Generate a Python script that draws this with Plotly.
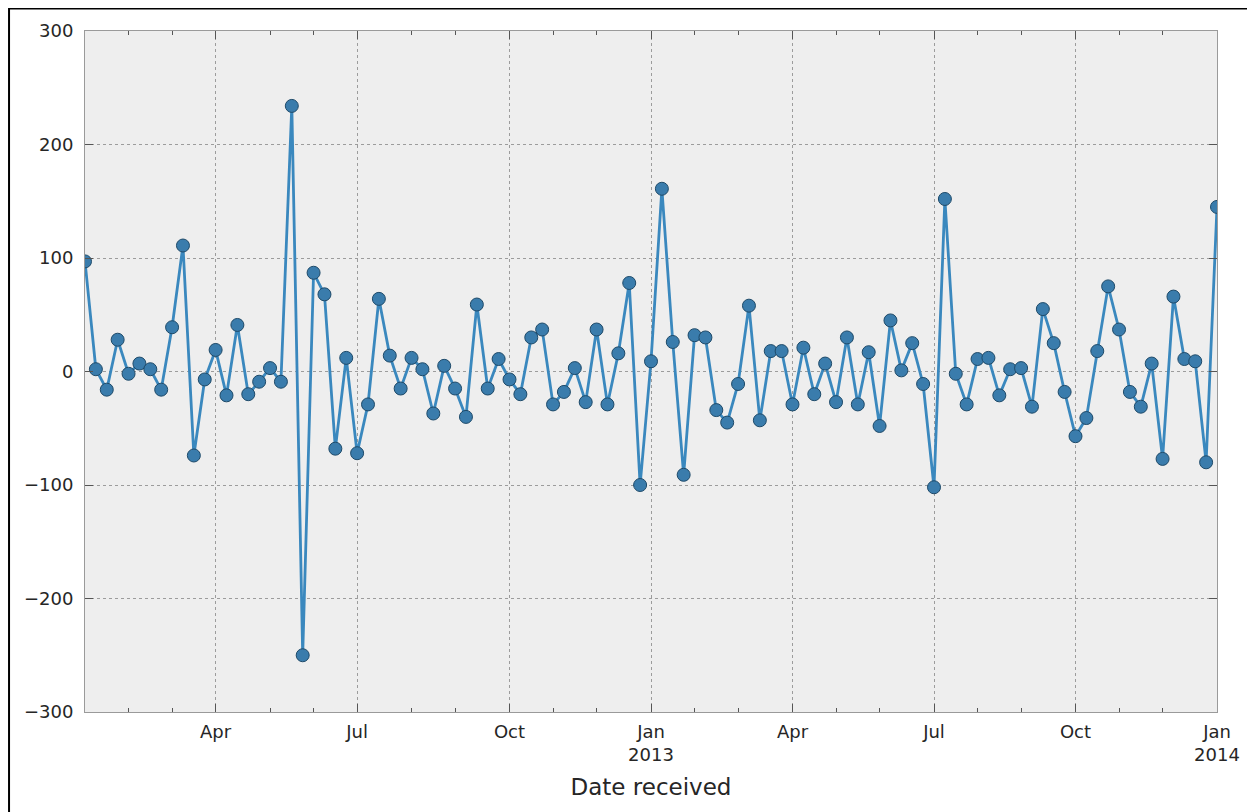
import pandas as pd
import plotly.graph_objects as go

# Weekly periods (W-SUN), first week ending 2012-01-08, last week containing 2014-01-01
start_week = "2012-01-08"
n_weeks = 105

values = [
    97, 2, -16, 28, -2, 7, 2, -16, 39, 111,
    -74, -7, 19, -21, 41, -20, -9, 3, -9, 234,
    -250, 87, 68, -68, 12, -72, -29, 64, 14, -15,
    12, 2, -37, 5, -15, -40, 59, -15, 11, -7,
    -20, 30, 37, -29, -18, 3, -27, 37, -29, 16,
    78, -100, 9, 161, 26, -91, 32, 30, -34, -45,
    -11, 58, -43, 18, 18, -29, 21, -20, 7, -27,
    30, -29, 17, -48, 45, 1, 25, -11, -102, 152,
    -2, -29, 11, 12, -21, 2, 3, -31, 55, 25,
    -18, -57, -41, 18, 75, 37, -18, -31, 7, -77,
    66, 11, 9, -80, 145,
]

major_months = [1, 4, 7, 10]
y_ticks = [-300, -200, -100, 0, 100, 200, 300]
x_title = "Date received"

dates = pd.date_range(start=start_week, periods=n_weeks, freq="W-SUN")

# pandas period-axis style ticks: a month tick sits on the week containing the 1st
month_starts = pd.date_range("2012-02-01", "2014-01-01", freq="MS")
def week_of(d):
    return d + pd.Timedelta(days=(6 - d.weekday()) % 7)

major_vals, major_text, minor_vals = [], [], []
for d in month_starts:
    w = week_of(d)
    if d.month in major_months:
        major_vals.append(w)
        major_text.append(d.strftime("%b") + (f"<br>{d.year}" if d.month == 1 else ""))
    else:
        minor_vals.append(w)

fig = go.Figure()
fig.add_trace(go.Scatter(
    x=dates, y=values, mode="lines+markers",
    line=dict(color="#3A88BE", width=2.8),
    marker=dict(size=13, color="#3A7CAC", line=dict(color="#1E4A69", width=1)),
    showlegend=False,
))

axis_common = dict(
    showline=True, linecolor="#9a9a9a", linewidth=1, mirror="ticks",
    ticks="inside", tickcolor="#555555", tickwidth=1,
    showgrid=True, gridcolor="#9c9c9c", gridwidth=1, griddash="3px,3px",
    zeroline=False,
    tickfont=dict(family="DejaVu Sans", size=18, color="#262626"),
)

fig.update_xaxes(
    **axis_common,
    type="date",
    range=[dates[0], dates[-1]],
    tickmode="array", tickvals=major_vals, ticktext=major_text, ticklen=8,
    ticklabelstandoff=3,
    minor=dict(tickmode="array", tickvals=minor_vals, ticks="inside", ticklen=4,
               tickcolor="#555555", showgrid=False),
    title=dict(text=x_title, font=dict(family="DejaVu Sans", size=23, color="#262626"), standoff=14),
)
fig.update_yaxes(
    **axis_common,
    range=[-300, 300],
    tickmode="array", tickvals=y_ticks, ticklen=8,
    ticklabelstandoff=7,
)

fig.update_layout(
    width=1247, height=804,
    margin=dict(l=77, r=38, t=23, b=100),
    paper_bgcolor="white", plot_bgcolor="#EEEEEE",
    shapes=[dict(type="rect", xref="paper", yref="paper",
                 x0=-0.0671, x1=1.0318, y0=-0.2, y1=1.0330,
                 line=dict(color="black", width=2), fillcolor="rgba(0,0,0,0)", layer="below")],
)

fig.write_html("out.html")
